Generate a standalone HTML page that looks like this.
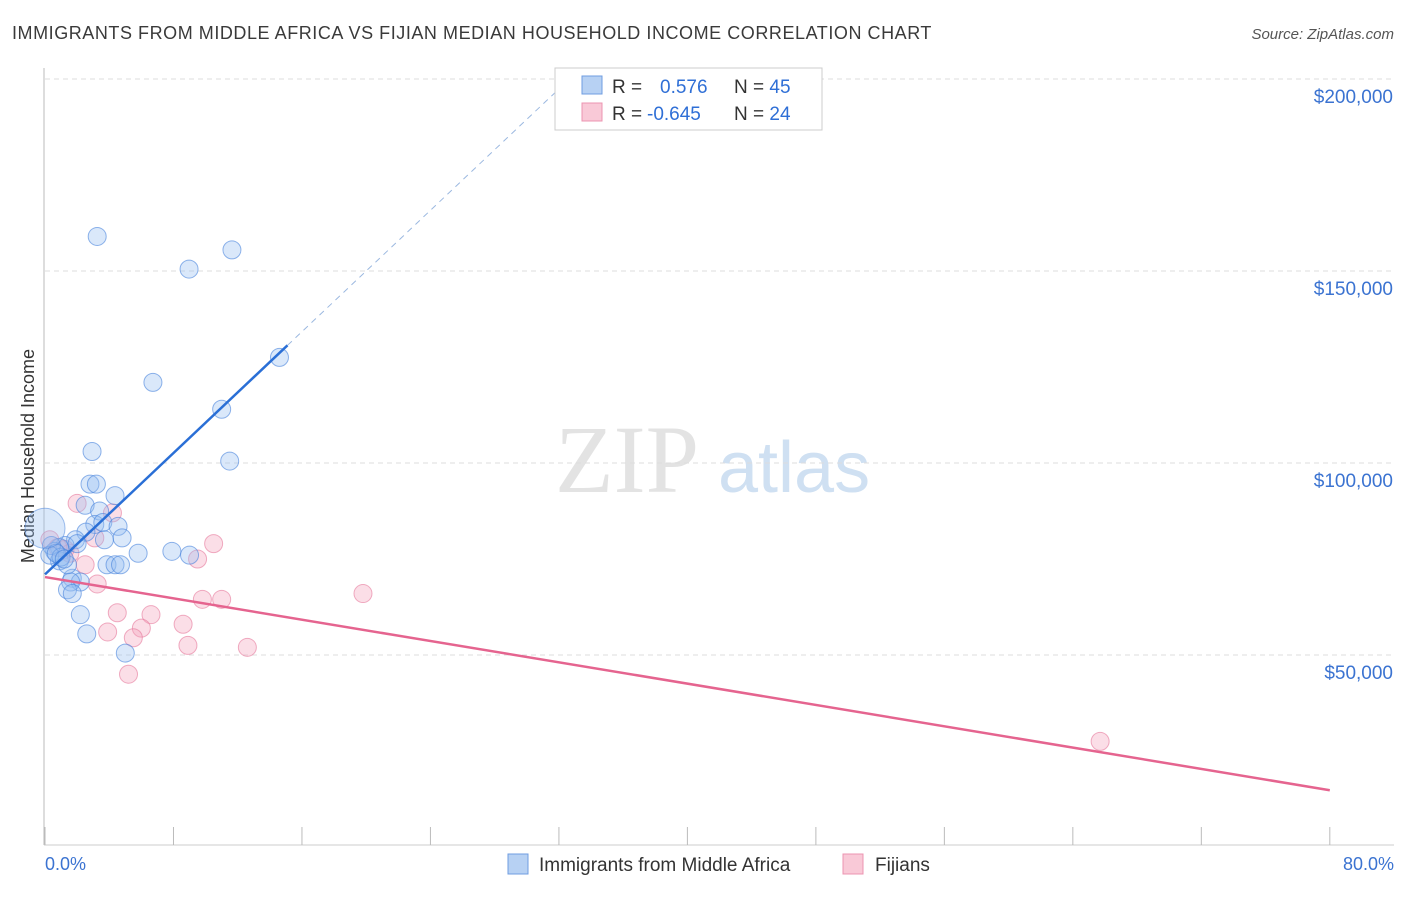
<!DOCTYPE html>
<html><head><meta charset="utf-8"><style>
body{margin:0;background:#fff;font-family:"Liberation Sans",sans-serif;}
</style></head><body>
<svg id="c" width="1406" height="892" xmlns="http://www.w3.org/2000/svg">
<text x="12" y="39" font-size="18" letter-spacing="0.55" fill="#3a3a3a">IMMIGRANTS FROM MIDDLE AFRICA VS FIJIAN MEDIAN HOUSEHOLD INCOME CORRELATION CHART</text>
<text x="1394" y="39" font-size="15" fill="#555" font-style="italic" text-anchor="end">Source: ZipAtlas.com</text>
<text x="555" y="492" font-size="96" fill="#e3e3e3" font-family="Liberation Serif">ZIP</text>
<text x="718" y="492" font-size="72" fill="#cfe0f2">atlas</text>
<g id="grid"></g>
<line x1="44" y1="68" x2="44" y2="845" stroke="#bbb"/>
<line x1="44" y1="845" x2="1394" y2="845" stroke="#ccc"/>
<g id="ticks"></g>
<text transform="translate(34,456) rotate(-90)" font-size="18" fill="#333" text-anchor="middle">Median Household Income</text>
<text x="45" y="870" font-size="18" fill="#3b73d1">0.0%</text>
<text x="1394" y="870" font-size="18" fill="#3b73d1" text-anchor="end">80.0%</text>
<g id="pts"></g>
<g id="lines"></g>
<g>
<rect x="555" y="68" width="267" height="62" fill="#fff" stroke="#ccc"/>
<rect x="582" y="76" width="20" height="18" fill="#b7d1f3" stroke="#6f9de0"/>
<rect x="582" y="103" width="20" height="18" fill="#f9c9d7" stroke="#ec94b0"/>
<text x="612" y="93" font-size="19" fill="#333">R = <tspan fill="#2f6fd6" x="660">0.576</tspan><tspan x="734">N = </tspan><tspan fill="#2f6fd6">45</tspan></text>
<text x="612" y="120" font-size="19" fill="#333">R = <tspan fill="#2f6fd6" x="647">-0.645</tspan><tspan x="734">N = </tspan><tspan fill="#2f6fd6">24</tspan></text>
</g>
<g>
<rect x="508" y="854" width="20" height="20" fill="#b7d1f3" stroke="#6f9de0"/>
<text x="539" y="871" font-size="19" fill="#333">Immigrants from Middle Africa</text>
<rect x="843" y="854" width="20" height="20" fill="#f9c9d7" stroke="#ec94b0"/>
<text x="875" y="871" font-size="19" fill="#333">Fijians</text>
</g>
</svg>
<script>
const yTicks=[50000,100000,150000,200000];
const yTickLabels=["$50,000","$100,000","$150,000","$200,000"];
const blueX=[3.25,8.97,11.64,6.72,14.6,11.0,11.5,2.93,2.8,3.2,4.36,2.5,3.4,3.1,3.6,4.55,2.55,4.8,3.7,1.9,5.8,7.9,9.0,1.25,0.9,0.6,0.4,3.86,4.36,4.7,0.9,1.7,2.2,1.6,1.4,1.7,2.2,2.6,5.0,1.4,0.3,1.0,2.0,0.7,1.2];
const blueY=[159000,150500,155500,121000,127500,114000,100500,103000,94500,94500,91500,89000,87500,84000,84500,83500,82000,80500,80000,80000,76500,77000,76000,78500,78000,77000,78500,73500,73500,73500,74500,70000,69000,69000,67000,66000,60500,55500,50500,73500,76000,75500,79000,76500,75000];
const pinkX=[2.0,4.2,3.1,10.5,1.25,1.55,0.3,9.5,2.5,3.25,19.8,9.8,11.0,4.5,6.6,8.6,3.9,6.0,5.5,8.9,12.6,5.2,65.7,0.8];
const pinkY=[89500,87000,80500,79000,77500,76500,80000,75000,73500,68500,66000,64500,64500,61000,60500,58000,56000,57000,54500,52500,52000,45000,27500,78000];
const blueTrend=[71000,3950];
const pinkTrend=[70300,-694];
const NS="http://www.w3.org/2000/svg";
const X=p=>45+p*16.06, Y=v=>847-v*0.00384;
function mk(t,a,parent){const e=document.createElementNS(NS,t);for(const k in a)e.setAttribute(k,a[k]);document.getElementById(parent).appendChild(e);return e;}
yTicks.forEach((v,i)=>{
 const g=mk('line',{x1:45,x2:1394,y1:Y(v),y2:Y(v),stroke:'#ddd','stroke-dasharray':'5,4'},'grid');
 
 
 const t=mk('text',{x:1393,y:Y(v)+24,'font-size':19,fill:'#3b73d1','text-anchor':'end'},'grid');
 t.textContent=yTickLabels[i];
 
 
});
for(let p=0;p<=80;p+=8){
 const l=mk('line',{x1:X(p),x2:X(p),y1:827,y2:845,stroke:'#bbb'},'ticks');
 
 
}
pinkX.forEach((x,i)=>{
 const c=mk('circle',{cx:X(x),cy:Y(pinkY[i]),r:9,fill:'rgba(244,160,185,0.35)',stroke:'rgba(230,120,155,0.6)'},'pts');
 
 
});
blueX.forEach((x,i)=>{
 const c=mk('circle',{cx:X(x),cy:Y(blueY[i]),r:9,fill:'rgba(150,190,240,0.35)',stroke:'rgba(70,130,220,0.6)'},'pts');
 
 
});
const big=mk('circle',{cx:X(0),cy:Y(83000),r:20,fill:'rgba(150,190,240,0.35)',stroke:'rgba(70,130,220,0.5)'},'pts');


const bx=Math.max(...blueX)+0.5;
const bl=mk('line',{x1:X(0),y1:Y(blueTrend[0]),x2:X(bx),y2:Y(blueTrend[0]+blueTrend[1]*bx),stroke:'#2a6fd6','stroke-width':2.5},'lines');


const xe=(202000-blueTrend[0])/blueTrend[1];
const bd=mk('line',{x1:X(bx),y1:Y(blueTrend[0]+blueTrend[1]*bx),x2:X(xe),y2:Y(202000),stroke:'#9bb8e0','stroke-width':1,'stroke-dasharray':'6,5'},'lines');


const pl=mk('line',{x1:X(0),y1:Y(pinkTrend[0]),x2:X(80),y2:Y(pinkTrend[0]+pinkTrend[1]*80),stroke:'#e5648f','stroke-width':2.5},'lines');


</script>
</body></html>
